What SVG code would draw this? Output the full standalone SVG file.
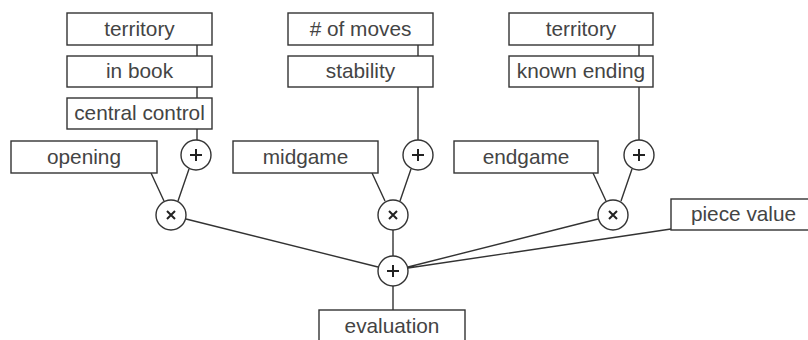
<svg xmlns="http://www.w3.org/2000/svg" width="808" height="340" viewBox="0 0 808 340">
<style>
.box{fill:#fff;stroke:#333;stroke-width:1.4}
.op{fill:#fff;stroke:#333;stroke-width:1.4}
.sym{stroke:#222;stroke-width:2;fill:none}
.ln{stroke:#333;stroke-width:1.4;fill:none}
text{font-family:"Liberation Sans",Arial,sans-serif;font-size:20.8px;fill:#444;text-anchor:middle}
</style>
<rect width="808" height="340" fill="#fff"/>
<g id="connectors">
<path class="ln" d="M197 45V56M197 87V98M197 129V141"/>
<path class="ln" d="M418 45V56M418 87V141"/>
<path class="ln" d="M639 45V56M639 87V141"/>
<path class="ln" d="M151 173L164 201M189 169L178 201"/>
<path class="ln" d="M372 173L385 201M411 169L400 201"/>
<path class="ln" d="M593 173L606 201M632 169L621 201"/>
<path class="ln" d="M186 219L378 267M393 230V256M598 219L408 267M671 229L408 268M393 286V310"/>
</g>
<g id="n-territory1"><rect class="box" x="67" y="13" width="145" height="32"/><text x="139.5" y="36">territory</text></g>
<g id="n-inbook"><rect class="box" x="67" y="56" width="145" height="31"/><text x="139.5" y="78">in book</text></g>
<g id="n-central"><rect class="box" x="67" y="98" width="145" height="31"/><text x="139.5" y="120">central control</text></g>
<g id="n-opening"><rect class="box" x="11" y="141" width="146" height="32"/><text x="84" y="164">opening</text></g>
<g id="n-plus1"><circle class="op" cx="196" cy="155" r="15"/><path class="sym" d="M190 155H202M196 149V161"/></g>
<g id="n-times1"><circle class="op" cx="171" cy="215" r="15"/><path class="sym" d="M167 211L175 219M175 211L167 219"/></g>
<g id="n-moves"><rect class="box" x="288" y="13" width="145" height="32"/><text x="360.5" y="36"># of moves</text></g>
<g id="n-stability"><rect class="box" x="288" y="56" width="145" height="31"/><text x="360.5" y="78">stability</text></g>
<g id="n-midgame"><rect class="box" x="233" y="141" width="145" height="32"/><text x="305.5" y="164">midgame</text></g>
<g id="n-plus2"><circle class="op" cx="418" cy="155" r="15"/><path class="sym" d="M412 155H424M418 149V161"/></g>
<g id="n-times2"><circle class="op" cx="393" cy="215" r="15"/><path class="sym" d="M389 211L397 219M397 211L389 219"/></g>
<g id="n-territory2"><rect class="box" x="509" y="13" width="144" height="32"/><text x="581" y="36">territory</text></g>
<g id="n-known"><rect class="box" x="509" y="56" width="144" height="31"/><text x="581" y="78">known ending</text></g>
<g id="n-endgame"><rect class="box" x="454" y="141" width="144" height="32"/><text x="526" y="164">endgame</text></g>
<g id="n-plus3"><circle class="op" cx="639" cy="155" r="15"/><path class="sym" d="M633 155H645M639 149V161"/></g>
<g id="n-times3"><circle class="op" cx="613" cy="215" r="15"/><path class="sym" d="M609 211L617 219M617 211L609 219"/></g>
<g id="n-piece"><rect class="box" x="671" y="199" width="145" height="31"/><text x="743.5" y="221">piece value</text></g>
<g id="n-sum"><circle class="op" cx="393" cy="271" r="15"/><path class="sym" d="M387 271H399M393 265V277"/></g>
<g id="n-evaluation"><rect class="box" x="319" y="310" width="146" height="40"/><text x="392" y="333">evaluation</text></g>
</svg>
